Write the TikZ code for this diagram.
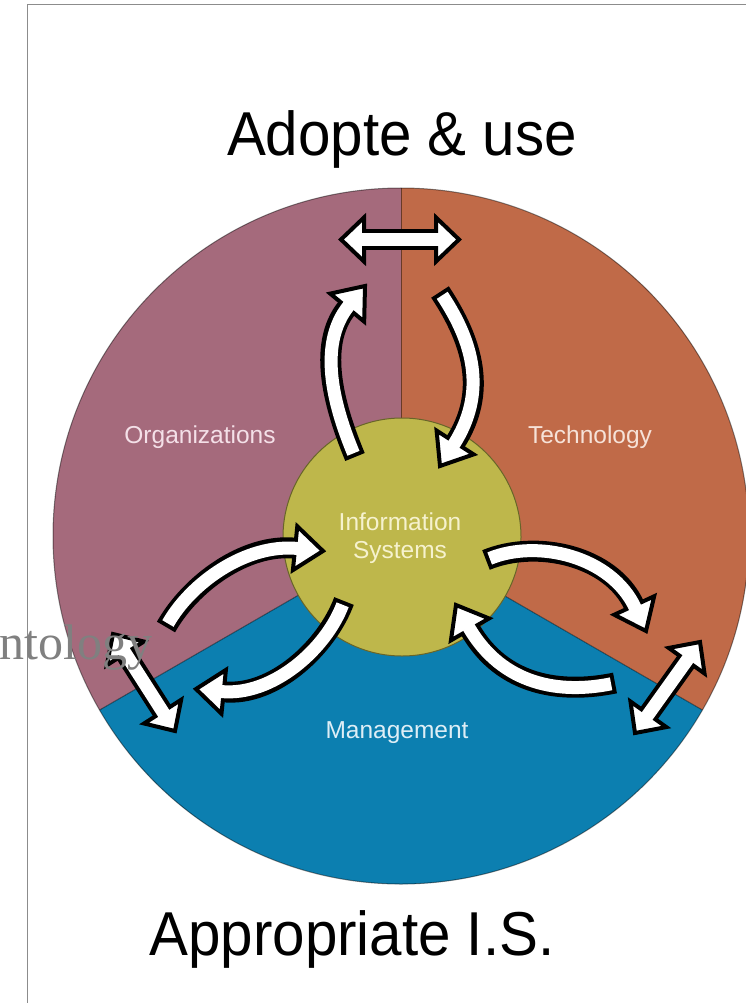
\documentclass[tikz,border=0pt]{standalone}
\usepackage{fontspec}
\setmainfont{Liberation Sans}
\newfontfamily\titlefont[FakeStretch=0.94]{Liberation Sans}
\newfontfamily\serifface{Liberation Serif}
\usetikzlibrary{calc}

\definecolor{orgc}{RGB}{165,106,124}
\definecolor{techc}{RGB}{192,106,72}
\definecolor{mgmtc}{RGB}{12,127,176}
\definecolor{isc}{RGB}{190,183,75}
\definecolor{framec}{RGB}{140,140,140}
\definecolor{orgtext}{RGB}{244,224,232}
\definecolor{techtext}{RGB}{246,226,216}
\definecolor{mgmttext}{RGB}{222,238,246}
\definecolor{istext}{RGB}{246,242,206}

\tikzset{
  headtip/.style={fill=white, draw=black, line width=4pt, line join=miter},
  divider/.style={draw=black, draw opacity=0.45, line width=1pt},
  sectorlabel/.style={font=\fontsize{24.5}{28}\selectfont, align=center, inner sep=0pt},
  titletext/.style={font=\titlefont\fontsize{62}{70}\selectfont, anchor=base, inner sep=0pt},
}

% curved block arrow: tail, control 1, control 2, head base, tip
\newcommand\blkarrow[5]{%
  \draw[line width=21pt] (#1) .. controls (#2) and (#3) .. (#4);
  \filldraw[headtip] ($(#4)!22pt!90:(#5)$) -- (#5) -- ($(#4)!22pt!-90:(#5)$) -- cycle;
  \draw[white, line width=13pt, shorten <=4pt, shorten >=-3pt] (#1) .. controls (#2) and (#3) .. (#4);
}
% straight two-headed block arrow: tip a, tip b, name prefix
\newcommand\dblarrow[3]{%
  \coordinate (#3a) at ($(#1)!23pt!(#2)$);
  \coordinate (#3b) at ($(#2)!23pt!(#1)$);
  \draw[line width=21pt] (#3a) -- (#3b);
  \filldraw[headtip] ($(#3a)!22pt!90:(#1)$) -- (#1) -- ($(#3a)!22pt!-90:(#1)$) -- cycle;
  \filldraw[headtip] ($(#3b)!22pt!90:(#2)$) -- (#2) -- ($(#3b)!22pt!-90:(#2)$) -- cycle;
  \draw[white, line width=13pt, shorten <=-3pt, shorten >=-3pt] (#3a) -- (#3b);
}

\begin{document}
\begin{tikzpicture}[x=1pt, y=-1pt]
\useasboundingbox (0,0) rectangle (746,1003);
\fill[white] (0,0) rectangle (746,1003);

% slide frame
\draw[framec, line width=1.5pt] (27.5,1003) -- (27.5,4.5) -- (746,4.5);

% three sectors of the disc
\coordinate (c) at (401,536);
\fill[orgc]  (c) -- ++(-90:348) arc[start angle=-90, end angle=-210, radius=348] -- cycle;
\fill[techc] (c) -- ++(30:348) arc[start angle=30, end angle=-90, radius=348] -- cycle;
\fill[mgmtc] (c) -- ++(150:348) arc[start angle=150, end angle=30, radius=348] -- cycle;
\draw[divider] (c) -- ++(-90:348);
\draw[divider] (c) -- ++(150:348);
\draw[divider] (c) -- ++(30:348);
\draw[divider] (c) circle[radius=348];

% central disc
\filldraw[fill=isc, draw=isc!55!black, line width=1pt] (402,537) circle[radius=119];

% labels
\node[sectorlabel, text=orgtext]  (org)  at (200,437) {Organizations};
\node[sectorlabel, text=techtext] (tech) at (590,437) {Technology};
\node[sectorlabel, text=mgmttext] (mgmt) at (397,733) {Management};
\node[sectorlabel, text=istext]   (is)   at (400,538) {Information\\Systems};

% top exchange
\coordinate (ta) at (341,239.5);
\coordinate (tb) at (459,239.5);
\dblarrow{ta}{tb}{top}

% organizations <-> technology loop
\coordinate (a2t) at (355,457);   \coordinate (a2c) at (336,411);
\coordinate (a2d) at (315.5,346.2); \coordinate (a2b) at (347.2,307.6);
\coordinate (a2p) at (365,286);
\blkarrow{a2t}{a2c}{a2d}{a2b}{a2p}

\coordinate (a3t) at (440,292);   \coordinate (a3c) at (473,341.8);
\coordinate (a3d) at (487.5,392.1); \coordinate (a3b) at (455.1,442.5);
\coordinate (a3p) at (440,466);
\blkarrow{a3t}{a3c}{a3d}{a3b}{a3p}

% organizations <-> management loop
\coordinate (a4t) at (166,627);   \coordinate (a4c) at (190.5,583.5);
\coordinate (a4d) at (245.6,543.2); \coordinate (a4b) at (295.1,548.2);
\coordinate (a4p) at (323,551);
\blkarrow{a4t}{a4c}{a4d}{a4b}{a4p}

\coordinate (a5t) at (344,601);   \coordinate (a5c) at (326.5,648);
\coordinate (a5d) at (273.2,696.8); \coordinate (a5b) at (223.7,691.8);
\coordinate (a5p) at (196,689);
\blkarrow{a5t}{a5c}{a5d}{a5b}{a5p}

% technology <-> management loop
\coordinate (a7t) at (486,560);   \coordinate (a7c) at (536.6,539.1);
\coordinate (a7d) at (611.1,555.5); \coordinate (a7b) at (634.2,605.5);
\coordinate (a7p) at (646,631);
\blkarrow{a7t}{a7c}{a7d}{a7b}{a7p}

\coordinate (a8t) at (615,683);   \coordinate (a8c) at (561,694);
\coordinate (a8d) at (502.5,686); \coordinate (a8b) at (470,629.4);
\coordinate (a8p) at (456,605);
\blkarrow{a8t}{a8c}{a8d}{a8b}{a8p}

% outer exchanges
\coordinate (la) at (113,634);
\coordinate (lb) at (175,731);
\dblarrow{la}{lb}{left}
\coordinate (ra) at (700,642);
\coordinate (rb) at (635,733);
\dblarrow{ra}{rb}{right}

% titles
\node[titletext] (adopt) at (402,156) {Adopte \& use};
\node[titletext] (appr)  at (352,955) {Appropriate I.S.};

% stray word over the left edge
\node[anchor=base west, inner sep=0pt, text=gray, font=\serifface\fontsize{50}{50}\selectfont] (onto) at (-1,659) {ntology};
\end{tikzpicture}
\end{document}
